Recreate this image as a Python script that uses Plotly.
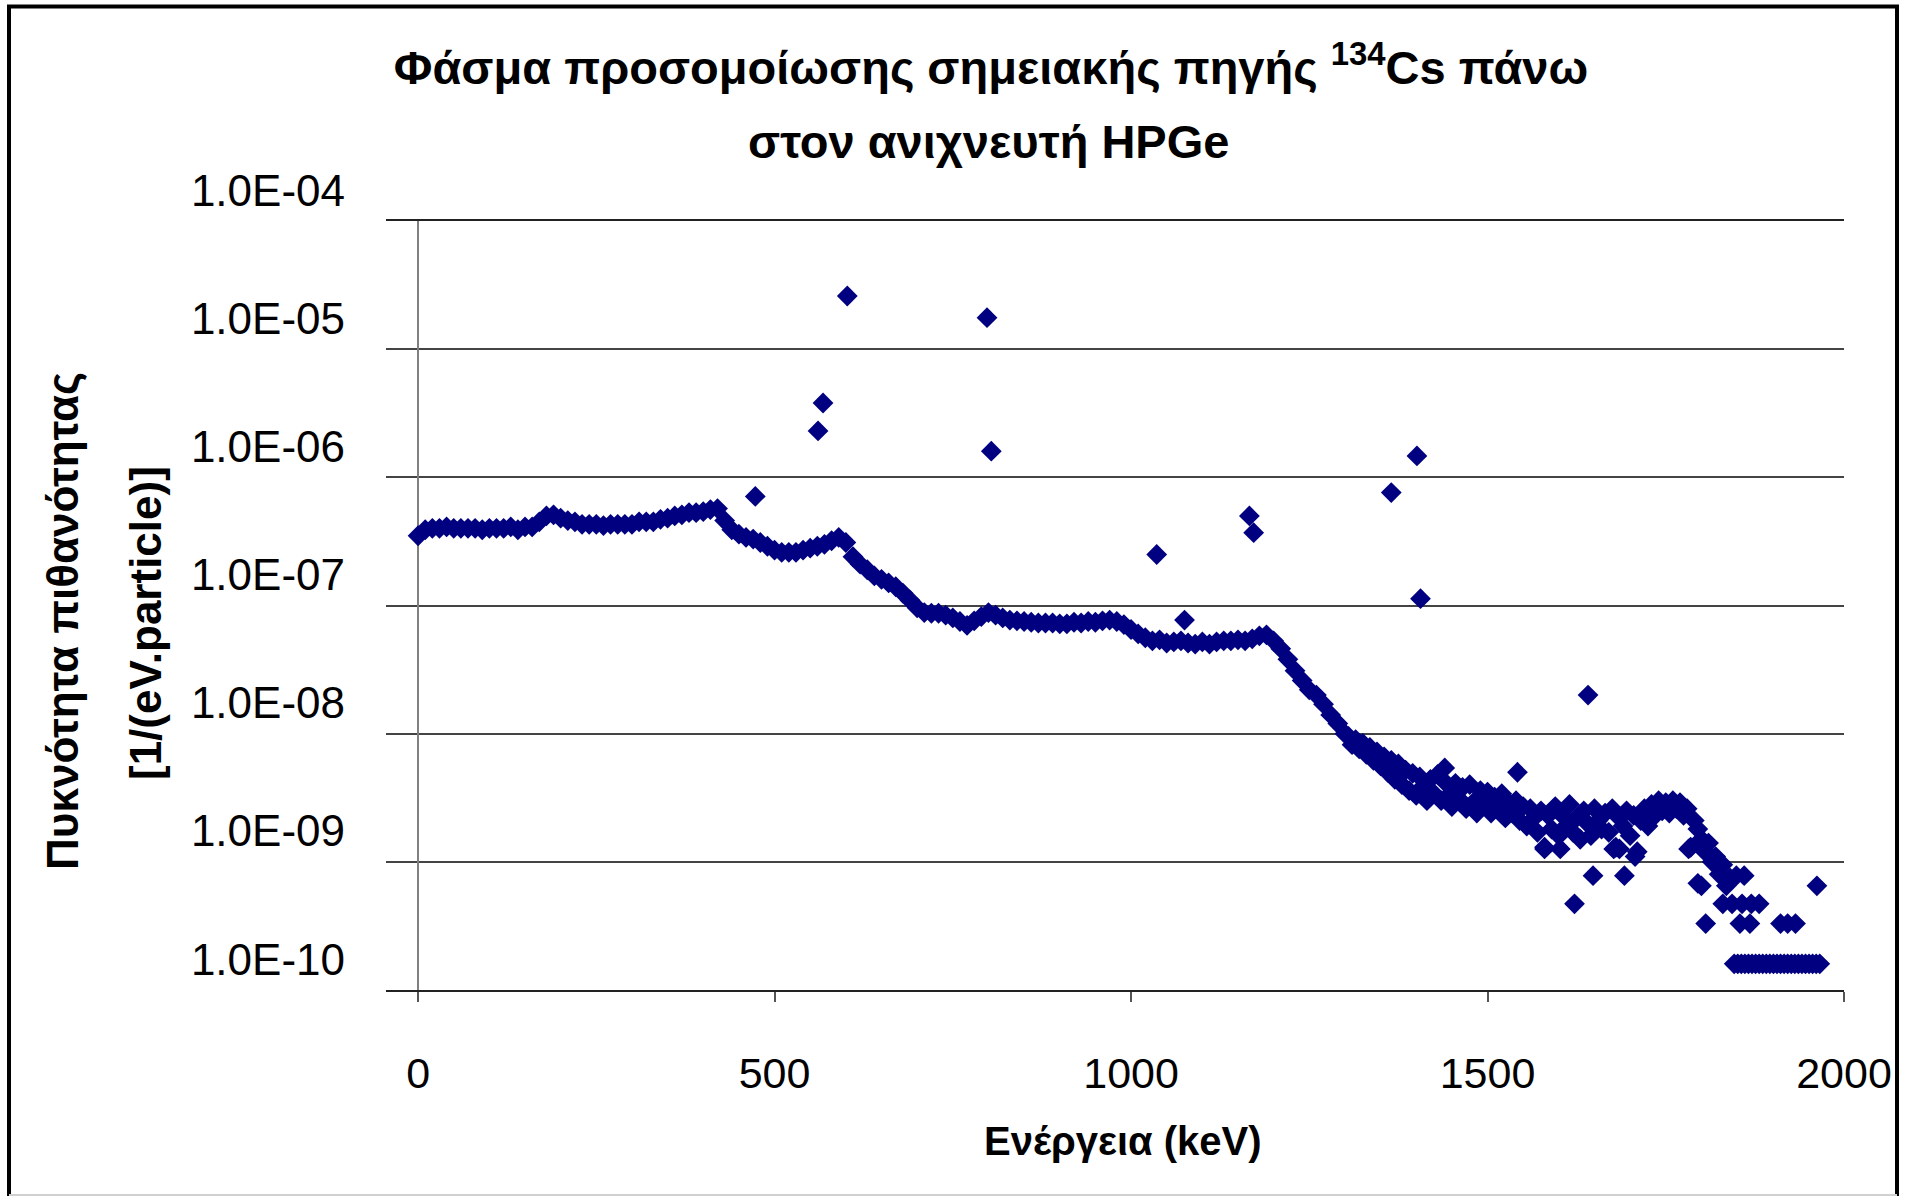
import plotly.graph_objects as go

# ---------------- data ----------------
cont_energy = [0, 10, 20, 30, 40, 50, 60, 70, 80, 90, 100, 110, 120, 130, 140, 150, 160, 170, 180, 190,
               200, 210, 220, 230, 240, 250, 260, 270, 280, 290, 300, 310, 320, 330, 340, 350, 360, 370, 380, 390,
               400, 410, 420, 430, 440, 450, 460, 470, 480, 490, 500, 510, 520, 530, 540, 550, 560, 570, 580, 590,
               600, 610, 620, 630, 640, 650, 660, 670, 680, 690, 700, 710, 720, 730, 740, 750, 760, 770, 780, 790,
               800, 810, 820, 830, 840, 850, 860, 870, 880, 890, 900, 910, 920, 930, 940, 950, 960, 970, 980, 990,
               1000, 1010, 1020, 1030, 1040, 1050, 1060, 1070, 1080, 1090, 1100, 1110, 1120, 1130, 1140, 1150,
               1160, 1170, 1180, 1190, 1200, 1210, 1220, 1230, 1240, 1250, 1260, 1270, 1280, 1290, 1300]
cont_density = [3.5e-7, 3.9e-7, 4.0e-7, 4.0e-7, 4.1e-7, 4.0e-7, 4.0e-7, 4.0e-7, 4.0e-7, 3.9e-7,
                4.0e-7, 4.0e-7, 4.0e-7, 4.1e-7, 3.9e-7, 4.1e-7, 4.1e-7, 4.5e-7, 5.0e-7, 5.1e-7,
                4.8e-7, 4.6e-7, 4.5e-7, 4.3e-7, 4.3e-7, 4.3e-7, 4.2e-7, 4.3e-7, 4.3e-7, 4.3e-7,
                4.3e-7, 4.5e-7, 4.5e-7, 4.5e-7, 4.7e-7, 4.8e-7, 5.0e-7, 5.1e-7, 5.3e-7, 5.3e-7,
                5.4e-7, 5.6e-7, 5.7e-7, 4.6e-7, 3.9e-7, 3.6e-7, 3.4e-7, 3.3e-7, 3.1e-7, 2.9e-7,
                2.7e-7, 2.6e-7, 2.6e-7, 2.6e-7, 2.7e-7, 2.8e-7, 2.9e-7, 3.0e-7, 3.2e-7, 3.4e-7,
                3.1e-7, 2.4e-7, 2.1e-7, 1.9e-7, 1.7e-7, 1.6e-7, 1.5e-7, 1.4e-7, 1.25e-7, 1.1e-7,
                9.6e-8, 8.8e-8, 8.7e-8, 8.7e-8, 8.4e-8, 8.0e-8, 7.5e-8, 7.0e-8, 7.6e-8, 8.2e-8,
                8.8e-8, 8.4e-8, 8.0e-8, 7.7e-8, 7.6e-8, 7.5e-8, 7.4e-8, 7.3e-8, 7.3e-8, 7.3e-8,
                7.2e-8, 7.2e-8, 7.4e-8, 7.3e-8, 7.5e-8, 7.4e-8, 7.6e-8, 7.7e-8, 7.5e-8, 7.1e-8,
                6.5e-8, 6.0e-8, 5.6e-8, 5.3e-8, 5.4e-8, 5.1e-8, 5.2e-8, 5.3e-8, 5.1e-8, 5.0e-8,
                5.2e-8, 5.0e-8, 5.2e-8, 5.3e-8, 5.3e-8, 5.4e-8, 5.3e-8, 5.5e-8, 5.8e-8, 5.9e-8,
                5.3e-8, 4.6e-8, 3.8e-8, 3.1e-8, 2.6e-8, 2.2e-8, 2.0e-8, 1.7e-8, 1.4e-8, 1.2e-8, 1.0e-8]

tail_energy = [1305, 1310, 1315, 1320, 1325, 1330, 1335, 1340, 1345, 1350, 1355, 1360, 1365, 1370, 1375,
               1380, 1385, 1390, 1395, 1400, 1405, 1410, 1415, 1420, 1425, 1430, 1435, 1440, 1445, 1450,
               1455, 1460, 1465, 1470, 1475, 1480, 1485, 1490, 1495, 1500, 1505, 1510, 1515, 1520, 1525,
               1530, 1535, 1540, 1545, 1550, 1555, 1560, 1565, 1570, 1575, 1580, 1585, 1590, 1595, 1600,
               1605, 1610, 1615, 1620, 1625, 1630, 1635, 1640, 1645, 1650, 1655, 1660, 1665, 1670, 1675,
               1680, 1685, 1690, 1695, 1700, 1705, 1710, 1715, 1720, 1725, 1730, 1735, 1740, 1745, 1750,
               1755, 1760, 1765, 1770, 1775, 1780, 1785, 1790, 1795, 1800, 1805, 1810, 1815, 1820, 1825,
               1830, 1835, 1840]
tail_density = [9.5e-9, 8.2e-9, 9.0e-9, 7.6e-9, 8.4e-9, 6.9e-9, 7.8e-9, 6.2e-9, 7.2e-9, 5.6e-9,
                6.6e-9, 5.0e-9, 6.2e-9, 4.4e-9, 5.8e-9, 4.0e-9, 5.2e-9, 3.6e-9, 4.9e-9, 3.3e-9,
                4.6e-9, 3.9e-9, 3.0e-9, 4.4e-9, 3.4e-9, 4.8e-9, 3.0e-9, 4.2e-9, 3.3e-9, 2.7e-9,
                4.1e-9, 3.1e-9, 3.8e-9, 2.6e-9, 4.0e-9, 2.9e-9, 2.4e-9, 3.6e-9, 2.8e-9, 3.5e-9,
                2.4e-9, 3.2e-9, 2.6e-9, 3.4e-9, 2.2e-9, 2.9e-9, 2.4e-9, 3.0e-9, 2.1e-9, 2.7e-9,
                1.9e-9, 2.6e-9, 2.2e-9, 1.7e-9, 2.5e-9, 1.3e-9, 2.3e-9, 1.8e-9, 2.7e-9, 1.6e-9,
                2.3e-9, 1.9e-9, 2.8e-9, 1.7e-9, 2.2e-9, 1.5e-9, 2.5e-9, 2.0e-9, 1.6e-9, 2.6e-9,
                2.1e-9, 1.8e-9, 2.4e-9, 1.7e-9, 2.6e-9, 1.3e-9, 2.2e-9, 1.9e-9, 2.5e-9, 1.6e-9,
                2.3e-9, 1.2e-9, 2.1e-9, 2.6e-9, 1.9e-9, 2.8e-9, 2.3e-9, 3.0e-9, 2.5e-9, 2.9e-9,
                2.4e-9, 3.0e-9, 2.6e-9, 2.9e-9, 2.3e-9, 2.6e-9, 1.3e-9, 2.1e-9, 1.8e-9, 1.5e-9,
                1.2e-9, 1.4e-9, 1.0e-9, 1.1e-9, 8.0e-10, 9.5e-10, 6.5e-10, 7.5e-10]

sparse_energy = [1440, 1542, 1580, 1602, 1677, 1685, 1707, 1782, 1622, 1648, 1692, 1849, 1860,
                 1795, 1800, 1962, 1830, 1843, 1857, 1870, 1881,
                 1806, 1854, 1868, 1911, 1921, 1932]
sparse_density = [5.4e-9, 5.0e-9, 1.26e-9, 1.26e-9, 1.26e-9, 1.26e-9, 1.1e-9, 1.26e-9, 4.7e-10, 7.8e-10,
                  7.8e-10, 7.8e-10, 7.8e-10, 6.8e-10, 6.5e-10, 6.5e-10, 4.7e-10, 4.7e-10, 4.7e-10,
                  4.7e-10, 4.7e-10, 3.3e-10, 3.3e-10, 3.3e-10, 3.3e-10, 3.3e-10, 3.3e-10]

floor_energy = [1846, 1851, 1856, 1861, 1866, 1871, 1876, 1881, 1886, 1891, 1896, 1901, 1906,
                1911, 1916, 1921, 1926, 1931, 1936, 1941, 1946, 1951, 1956, 1961, 1966]
floor_density = [1.6e-10] * len(floor_energy)

peak_energy = [473, 561, 568, 602, 798, 804, 1036, 1075, 1166, 1172, 1365, 1401, 1406, 1641]
peak_density = [7.1e-7, 2.3e-6, 3.8e-6, 2.6e-5, 1.76e-5, 1.6e-6, 2.5e-7, 7.7e-8, 5.0e-7, 3.7e-7,
                7.6e-7, 1.47e-6, 1.13e-7, 2.0e-8]

y_tick_vals = [1e-10, 1e-9, 1e-8, 1e-7, 1e-6, 1e-5, 1e-4]
y_tick_text = ["1.0E-10", "1.0E-09", "1.0E-08", "1.0E-07", "1.0E-06", "1.0E-05", "1.0E-04"]
x_tick_vals = [0, 500, 1000, 1500, 2000]

title_line1 = "Φάσμα προσομοίωσης σημειακής πηγής <sup>134</sup>Cs πάνω"
title_line2 = "στον ανιχνευτή HPGe"
x_title = "Ενέργεια (keV)"
y_title_line1 = "Πυκνότητα πιθανότητας"
y_title_line2 = "[1/(eV.particle)]"

# ---------------- figure ----------------
FONT = "Liberation Sans, Arial, sans-serif"

all_x = cont_energy + tail_energy + sparse_energy + floor_energy + peak_energy
all_y = cont_density + tail_density + sparse_density + floor_density + peak_density

fig = go.Figure()
fig.add_trace(go.Scatter(
    x=all_x, y=all_y, mode="markers",
    marker=dict(symbol="diamond", size=16, color="#000080", line=dict(width=0)),
    showlegend=False,
))

W, H = 1917, 1196
L, R, T, B = 386, 73, 221, 206
pw, ph = W - L - R, H - T - B


def px(xp):
    return (xp - L) / pw


def py(yp):
    return (H - B - yp) / ph


bold_title = dict(family=FONT, size=47, weight="bold", color="black")
bold_axis = dict(family=FONT, size=44, weight="bold", color="black")

fig.update_layout(
    template="none",
    width=W, height=H,
    margin=dict(l=L, r=R, t=T, b=B, pad=0),
    paper_bgcolor="white", plot_bgcolor="white",
    font=dict(family=FONT, color="black"),
    title=dict(text=title_line1, x=px(991), xref="paper", xanchor="center",
               y=1 - 68 / H, yref="container", yanchor="middle", font=bold_title),
    xaxis=dict(range=[-45, 2000], tickvals=x_tick_vals, ticks="outside", ticklen=10,
               tickwidth=2, tickcolor="#555", showgrid=False,
               zeroline=True, zerolinecolor="#808080", zerolinewidth=2,
               showline=True, mirror=True, linecolor="#222", linewidth=1.5,
               tickfont=dict(family=FONT, size=43), ticklabelstandoff=35, automargin=False),
    yaxis=dict(type="log", range=[-10, -4], tickvals=y_tick_vals, ticktext=y_tick_text,
               ticks="", showgrid=True, gridcolor="#444", gridwidth=1.5,
               zeroline=False, showline=False, ticklabelposition="outside top",
               ticklabelstandoff=40, tickfont=dict(family=FONT, size=44), automargin=False),
    annotations=[
        dict(text=title_line2, xref="paper", yref="paper", x=px(988), y=py(141),
             xanchor="center", yanchor="middle", showarrow=False, font=bold_title),
        dict(text=x_title, xref="paper", yref="paper", x=px(1123), y=py(1141),
             xanchor="center", yanchor="middle", showarrow=False, font=dict(bold_axis, size=40)),
        dict(text=y_title_line1, xref="paper", yref="paper", x=px(62), y=py(621),
             xanchor="center", yanchor="middle", showarrow=False, textangle=-90, font=bold_axis),
        dict(text=y_title_line2, xref="paper", yref="paper", x=px(145), y=py(623),
             xanchor="center", yanchor="middle", showarrow=False, textangle=-90, font=bold_axis),
    ],
    shapes=[
        dict(type="rect", xref="paper", yref="paper", x0=px(9), x1=px(1897), y0=py(1199), y1=py(6.5),
             line=dict(color="black", width=4), fillcolor="rgba(0,0,0,0)", layer="above"),
        dict(type="line", xref="paper", yref="paper", x0=px(9), x1=px(1897), y0=py(1195), y1=py(1195),
             line=dict(color="#d0d0d0", width=2)),
    ],
)

fig.write_html("out.html")
